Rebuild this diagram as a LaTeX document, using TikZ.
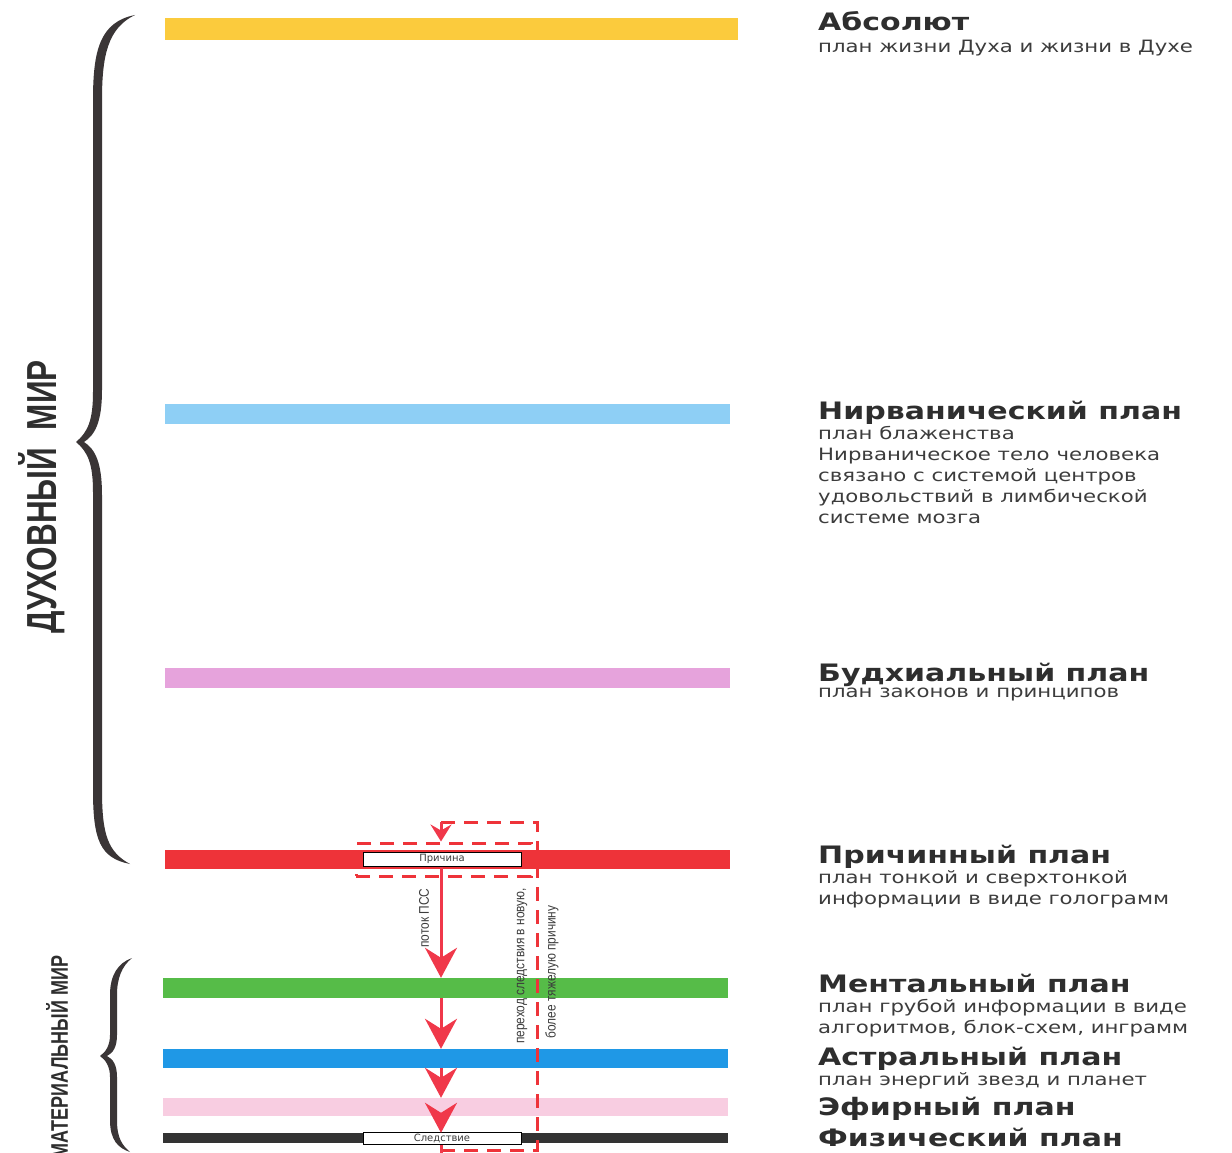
\documentclass[tikz,border=0pt]{standalone}
\usepackage{fontspec}
\setmainfont{DejaVu Sans}
\newfontfamily\planfont{DejaVu Sans}[FakeStretch=1.25]
\newfontfamily\narrowfont{Liberation Sans}[FakeStretch=0.85]
\newfontfamily\worldfont{Liberation Sans}[FakeStretch=0.75]
\usetikzlibrary{arrows.meta}
\definecolor{absyellow}{HTML}{FBCB3D}
\definecolor{nirvblue}{HTML}{8ECFF5}
\definecolor{buddviolet}{HTML}{E6A3DC}
\definecolor{causred}{HTML}{EE3339}
\definecolor{mentgreen}{HTML}{56BC48}
\definecolor{astrblue}{HTML}{1F98E6}
\definecolor{ethpink}{HTML}{F8CDE1}
\definecolor{physdark}{HTML}{333333}
\definecolor{flowred}{HTML}{F0384A}
\definecolor{bracegray}{HTML}{3A3536}
\definecolor{titlegray}{HTML}{2E2E2E}
\definecolor{subgray}{HTML}{3C3C3C}

\begin{document}
\begin{tikzpicture}[x=1pt,y=-1pt,
 bar/.style={inner sep=0pt,minimum width=565pt,minimum height=20pt},
 tag/.style={draw=black,line width=1pt,fill=white,inner sep=0pt,minimum width=158pt,minimum height=14pt,text=subgray,font=\fontsize{10}{10}\selectfont},
 plantitle/.style={anchor=base west,inner sep=0pt,text=titlegray,font=\planfont\bfseries\fontsize{24}{24}\selectfont},
 plansub/.style={anchor=north west,inner sep=0pt,align=left,text=subgray,font=\planfont\fontsize{17}{21}\selectfont},
 worldlabel/.style={rotate=90,inner sep=0pt,text=titlegray},
 flowtext/.style={rotate=90,inner sep=0pt,text=subgray,font=\narrowfont\fontsize{14}{14}\selectfont},
 flow/.style={flowred,line width=3pt,-{Stealth[length=30pt,width=32pt,inset=10pt]}},
 loopline/.style={causred,line width=3pt,dash pattern=on 14pt off 9pt}]
 \useasboundingbox[fill=white] (0,0) rectangle (1232,1153);

 % plan bars
 \node[bar,fill=absyellow,minimum width=573pt,minimum height=22pt] (absolut) at (451.5,29) {};
 \node[bar,fill=nirvblue] (nirvana) at (447.5,414) {};
 \node[bar,fill=buddviolet] (buddhi) at (447.5,678) {};
 \node[bar,fill=causred,minimum height=19pt] (causal) at (447.5,859.5) {};
 \node[bar,fill=mentgreen] (mental) at (445.5,988) {};
 \node[bar,fill=astrblue,minimum height=19pt] (astral) at (445.5,1058.5) {};
 \node[bar,fill=ethpink,minimum height=18pt] (ether) at (445.5,1107) {};
 \node[bar,fill=physdark,minimum height=10pt] (physical) at (445.5,1138) {};

 % cause and effect
 \node[tag] (cause) at (442,859) {Причина};
 \node[tag,minimum height=12pt] (effect) at (442,1138) {Следствие};
 \node[draw=causred,line width=3pt,dash pattern=on 14pt off 9pt,inner sep=0pt,minimum width=175pt,minimum height=33pt] (causefrm) at (443.5,859.5) {};

 \coordinate (flowtop) at (441,822);
 \coordinate (flowbot) at (441,1153);
 \coordinate (turn) at (537,822);
 \coordinate (turnb) at (537,1150);

 \draw[loopline] (flowtop) -- (turn) -- (turnb) -- (flowbot |- turnb);
 \draw[flowred,line width=3pt,-{Stealth[length=17pt,width=21pt,inset=6pt]}] (flowtop) -- (flowtop |- causefrm.north);
 \draw[flow] (flowtop |- cause.south) -- (flowtop |- mental.north);
 \draw[flow] (flowtop |- mental.south) -- (flowtop |- astral.north);
 \draw[flow] (flowtop |- astral.south) -- (flowtop |- ether.north);
 \draw[flow] (flowtop |- ether.south) -- (flowtop |- physical.north);
 \draw[flowred,line width=3pt] (flowtop |- effect.south) -- (flowbot);

 \node[flowtext] (pss) at (424,918) {поток ПСС};
 \node[flowtext] (transa) at (522,966) {переход следствия в новую,};
 \node[flowtext] (transb) at (552,972) {более тяжелую причину};

 % braces
 \fill[bracegray] (135,15) .. controls (100,22) and (93,50) .. (93,100) -- (93,392)
  .. controls (93,420) and (88,432) .. (76,442) .. controls (88,452) and (93,464) .. (93,492)
  -- (93,790) .. controls (93,840) and (100,858) .. (130,864)
  .. controls (108,852) and (102,835) .. (102,790) -- (102,495)
  .. controls (102,462) and (95,449) .. (84,442) .. controls (95,435) and (102,422) .. (102,390)
  -- (102,100) .. controls (102,55) and (108,28) .. (135,15) -- cycle;
 \fill[bracegray] (132,958) .. controls (118,963) and (110,975) .. (110,995) -- (110,1035)
  .. controls (110,1045) and (106,1052) .. (100,1056) .. controls (106,1060) and (110,1067) .. (110,1077)
  -- (110,1120) .. controls (110,1140) and (118,1148) .. (130,1152)
  .. controls (122,1145) and (117,1138) .. (117,1120) -- (117,1077)
  .. controls (117,1065) and (113,1059) .. (107,1056) .. controls (113,1053) and (117,1047) .. (117,1035)
  -- (117,995) .. controls (117,978) and (122,966) .. (132,958) -- cycle;

 \node[worldlabel,font=\worldfont\bfseries\fontsize{42}{42}\selectfont] (spirit) at (42,497) {ДУХОВНЫЙ~~МИР};
 \node[worldlabel,font=\worldfont\bfseries\fontsize{24}{24}\selectfont] (matter) at (57,1057) {МАТЕРИАЛЬНЫЙ МИР};

 % plan names
 \node[plantitle] (absT) at (818,31) {Абсолют};
 \node[plansub] (absS) at (818,40) {план жизни Духа и жизни в Духе};
 \node[plantitle] (nirvT) at (818,419) {Нирванический план};
 \node[plansub] (nirvS) at (818,426) {план блаженства\\Нирваническое тело человека\\связано с системой центров\\удовольствий в лимбической\\системе мозга};
 \node[plantitle] (buddT) at (818,681) {Будхиальный план};
 \node[plansub] (buddS) at (818,688) {план законов и принципов};
 \node[plantitle] (causT) at (818,863) {Причинный план};
 \node[plansub] (causS) at (818,870) {план тонкой и сверхтонкой\\информации в виде голограмм};
 \node[plantitle] (mentT) at (818,992) {Ментальный план};
 \node[plansub] (mentS) at (818,999) {план грубой информации в виде\\алгоритмов, блок-схем, инграмм};
 \node[plantitle] (astrT) at (818,1065) {Астральный план};
 \node[plansub] (astrS) at (818,1072) {план энергий звезд и планет};
 \node[plantitle] (ethT) at (818,1115) {Эфирный план};
 \node[plantitle] (physT) at (818,1146) {Физический план};
\end{tikzpicture}
\end{document}
